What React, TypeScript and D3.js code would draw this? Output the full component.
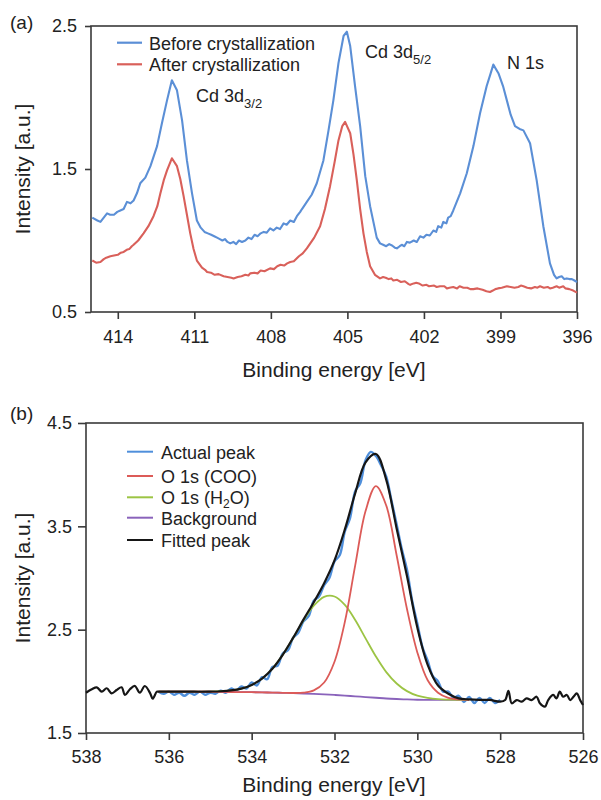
import React, { useEffect, useRef } from "react";
import * as d3 from "d3";

// ---- panel (a): XPS survey of Cd 3d / N 1s ----
const beforeEnergy = [415.0, 414.95, 414.8, 414.68, 414.55, 414.42, 414.3, 414.15, 414.02, 413.9, 413.77, 413.64, 413.5, 413.38, 413.25, 413.12, 412.92, 412.72, 412.46, 412.27, 412.07, 411.88, 411.68, 411.48, 411.29, 411.09, 410.9, 410.75, 410.6, 410.47, 410.34, 410.22, 410.11, 410.0, 409.9, 409.8, 409.7, 409.59, 409.47, 409.36, 409.25, 409.13, 409.0, 408.88, 408.76, 408.64, 408.52, 408.4, 408.28, 408.16, 408.03, 407.9, 407.77, 407.64, 407.5, 407.38, 407.24, 407.1, 406.98, 406.85, 406.78, 406.59, 406.4, 406.2, 405.94, 405.74, 405.55, 405.35, 405.15, 405.02, 404.89, 404.7, 404.5, 404.3, 404.11, 403.85, 403.72, 403.6, 403.48, 403.36, 403.25, 403.14, 403.06, 402.95, 402.87, 402.77, 402.67, 402.55, 402.4, 402.28, 402.15, 402.02, 401.9, 401.77, 401.63, 401.52, 401.44, 401.32, 401.24, 401.12, 401.05, 400.95, 400.85, 400.58, 400.32, 400.06, 399.8, 399.54, 399.4, 399.28, 399.08, 398.9, 398.75, 398.6, 398.43, 398.25, 398.1, 397.84, 397.58, 397.32, 397.06, 396.9, 396.8, 396.7, 396.6, 396.5, 396.4, 396.3, 396.2, 396.1, 396.0];
const beforeIntensity = [1.16, 1.155, 1.14, 1.13, 1.16, 1.19, 1.18, 1.18, 1.2, 1.21, 1.22, 1.27, 1.26, 1.28, 1.33, 1.4, 1.44, 1.52, 1.66, 1.82, 1.98, 2.12, 2.05, 1.84, 1.56, 1.33, 1.14, 1.09, 1.06, 1.05, 1.04, 1.03, 1.02, 1.01, 1.0, 1.01, 0.99, 0.98, 0.99, 0.975, 1.0, 0.99, 1.0, 1.02, 1.01, 1.04, 1.03, 1.05, 1.06, 1.055, 1.085, 1.07, 1.09, 1.08, 1.12, 1.11, 1.14, 1.13, 1.17, 1.2, 1.22, 1.27, 1.32, 1.4, 1.56, 1.77, 1.98, 2.24, 2.43, 2.46, 2.36, 2.08, 1.8, 1.45, 1.24, 1.02, 0.98, 0.97, 0.96, 0.975, 0.965, 0.95, 0.945, 0.96, 0.97, 0.96, 0.99, 0.985, 1.0, 0.99, 1.03, 1.02, 1.04, 1.035, 1.07, 1.06, 1.1, 1.09, 1.13, 1.12, 1.16, 1.17, 1.21, 1.33, 1.47, 1.66, 1.89, 2.08, 2.16, 2.23, 2.17, 2.08, 1.98, 1.88, 1.8, 1.78, 1.77, 1.68, 1.42, 1.1, 0.84, 0.76, 0.735, 0.745, 0.75, 0.73, 0.735, 0.73, 0.73, 0.72, 0.71];

const afterEnergy = [415.0, 414.85, 414.68, 414.55, 414.45, 414.29, 414.15, 414.0, 413.88, 413.77, 413.65, 413.55, 413.45, 413.38, 413.2, 412.99, 412.8, 412.6, 412.45, 412.33, 412.2, 412.07, 411.88, 411.68, 411.55, 411.42, 411.29, 411.16, 411.03, 410.9, 410.7, 410.58, 410.5, 410.35, 410.2, 410.05, 409.85, 409.7, 409.55, 409.46, 409.3, 409.15, 409.0, 408.88, 408.81, 408.65, 408.52, 408.4, 408.25, 408.03, 407.88, 407.75, 407.62, 407.48, 407.36, 407.24, 407.1, 406.9, 406.75, 406.59, 406.3, 406.07, 405.88, 405.68, 405.5, 405.35, 405.2, 405.09, 404.89, 404.76, 404.63, 404.5, 404.37, 404.24, 404.11, 403.92, 403.72, 403.6, 403.5, 403.38, 403.28, 403.2, 403.05, 402.9, 402.75, 402.6, 402.54, 402.4, 402.3, 402.2, 402.05, 401.9, 401.8, 401.6, 401.5, 401.37, 401.2, 401.1, 401.0, 400.85, 400.7, 400.6, 400.45, 400.3, 400.18, 400.06, 399.9, 399.7, 399.55, 399.41, 399.3, 399.2, 399.1, 398.95, 398.85, 398.75, 398.6, 398.45, 398.3, 398.2, 398.1, 397.95, 397.8, 397.65, 397.55, 397.45, 397.3, 397.15, 397.06, 396.95, 396.8, 396.7, 396.54, 396.45, 396.3, 396.15, 396.0];
const afterIntensity = [0.86, 0.845, 0.85, 0.87, 0.88, 0.89, 0.895, 0.9, 0.915, 0.92, 0.935, 0.94, 0.96, 0.97, 1.0, 1.05, 1.1, 1.17, 1.24, 1.33, 1.42, 1.49, 1.575, 1.52, 1.43, 1.31, 1.18, 1.05, 0.94, 0.86, 0.81, 0.795, 0.78, 0.775, 0.76, 0.765, 0.75, 0.745, 0.74, 0.735, 0.745, 0.75, 0.76, 0.755, 0.77, 0.775, 0.77, 0.79, 0.785, 0.805, 0.8, 0.82, 0.83, 0.825, 0.84, 0.85, 0.855, 0.89, 0.91, 0.945, 1.02, 1.1, 1.22, 1.38, 1.55, 1.7, 1.8, 1.83, 1.75, 1.6, 1.42, 1.22, 1.05, 0.92, 0.82, 0.76, 0.735, 0.745, 0.74, 0.73, 0.735, 0.72, 0.725, 0.71, 0.715, 0.695, 0.69, 0.7, 0.705, 0.7, 0.685, 0.69, 0.68, 0.685, 0.675, 0.68, 0.68, 0.665, 0.67, 0.675, 0.665, 0.68, 0.67, 0.67, 0.66, 0.66, 0.665, 0.655, 0.645, 0.64, 0.65, 0.66, 0.665, 0.67, 0.675, 0.68, 0.675, 0.67, 0.675, 0.685, 0.68, 0.67, 0.665, 0.675, 0.67, 0.68, 0.67, 0.675, 0.665, 0.67, 0.68, 0.67, 0.68, 0.665, 0.66, 0.65, 0.635];

const ticksAX = [414, 411, 408, 405, 402, 399, 396];
const ticksAY = [0.5, 1.5, 2.5];

// ---- panel (b): O 1s fit ----
const fitEnergy = [536.25, 536.0, 535.75, 535.5, 535.25, 535.0, 534.75, 534.5, 534.25, 534.0, 533.75, 533.5, 533.25, 533.0, 532.75, 532.5, 532.25, 532.0, 531.75, 531.5, 531.25, 531.0, 530.75, 530.5, 530.25, 530.0, 529.75, 529.5, 529.25, 529.0, 528.75];
const background = [1.9, 1.9, 1.9, 1.9, 1.899, 1.899, 1.898, 1.897, 1.896, 1.895, 1.893, 1.891, 1.889, 1.886, 1.882, 1.878, 1.873, 1.868, 1.862, 1.855, 1.848, 1.841, 1.834, 1.829, 1.825, 1.822, 1.821, 1.82, 1.82, 1.82, 1.82];
const o1sCOO = [1.9, 1.9, 1.9, 1.9, 1.899, 1.899, 1.898, 1.897, 1.896, 1.895, 1.893, 1.891, 1.889, 1.887, 1.89, 1.912, 1.989, 2.19, 2.575, 3.122, 3.648, 3.889, 3.7, 3.22, 2.7, 2.28, 2.01, 1.89, 1.84, 1.825, 1.82];
const o1sH2O = [1.9, 1.9, 1.9, 1.9, 1.9, 1.901, 1.904, 1.912, 1.93, 1.965, 2.026, 2.122, 2.257, 2.419, 2.589, 2.732, 2.818, 2.821, 2.74, 2.594, 2.416, 2.24, 2.089, 1.979, 1.905, 1.861, 1.839, 1.827, 1.823, 1.821, 1.82];
const fittedMid = [1.9, 1.9, 1.9, 1.9, 1.899, 1.901, 1.904, 1.912, 1.93, 1.965, 2.026, 2.122, 2.257, 2.42, 2.597, 2.766, 2.95, 3.17, 3.47, 3.82, 4.12, 4.2, 3.95, 3.48, 3.02, 2.52, 2.16, 1.96, 1.88, 1.835, 1.825];

const noiseLeftEnergy = [538.0, 537.86, 537.74, 537.62, 537.5, 537.38, 537.26, 537.14, 537.06, 536.94, 536.82, 536.7, 536.58, 536.45, 536.39, 536.29];
const noiseLeftIntensity = [1.89, 1.923, 1.942, 1.9, 1.933, 1.884, 1.916, 1.942, 1.868, 1.923, 1.955, 1.89, 1.955, 1.884, 1.832, 1.9];
const noiseRightEnergy = [528.5, 528.25, 528.0, 527.88, 527.8, 527.72, 527.6, 527.48, 527.36, 527.24, 527.12, 527.04, 526.92, 526.84, 526.72, 526.64, 526.56, 526.48, 526.39, 526.31, 526.23, 526.15, 526.07, 526.0];
const noiseRightIntensity = [1.82, 1.82, 1.803, 1.819, 1.909, 1.787, 1.819, 1.803, 1.835, 1.819, 1.851, 1.787, 1.755, 1.819, 1.868, 1.835, 1.9, 1.851, 1.868, 1.819, 1.851, 1.884, 1.819, 1.771];

const actualEnergy = [536.25, 536.125, 536.0, 535.875, 535.75, 535.625, 535.5, 535.375, 535.25, 535.125, 535.0, 534.875, 534.75, 534.625, 534.5, 534.375, 534.25, 534.125, 534.0, 533.875, 533.75, 533.625, 533.5, 533.375, 533.25, 533.125, 533.0, 532.875, 532.75, 532.625, 532.5, 532.375, 532.25, 532.125, 532.0, 531.875, 531.75, 531.625, 531.5, 531.375, 531.25, 531.125, 531.0, 530.875, 530.75, 530.625, 530.5, 530.375, 530.25, 530.125, 530.0, 529.875, 529.75, 529.625, 529.5, 529.375, 529.25, 529.125, 529.0, 528.875, 528.75, 528.625, 528.5, 528.375, 528.25, 528.125, 528.0];
const actualIntensity = [1.9, 1.88, 1.9, 1.87, 1.89, 1.86, 1.89, 1.87, 1.9, 1.87, 1.89, 1.88, 1.91, 1.89, 1.93, 1.91, 1.95, 1.93, 1.99, 1.96, 2.04, 2.02, 2.14, 2.15, 2.27, 2.3, 2.42, 2.47, 2.58, 2.63, 2.78, 2.82, 2.93, 3.0, 3.16, 3.22, 3.45, 3.58, 3.84, 3.92, 4.14, 4.22, 4.18, 4.09, 3.98, 3.75, 3.52, 3.28, 3.08, 2.78, 2.56, 2.33, 2.2, 2.05, 2.0, 1.9, 1.9, 1.84, 1.86, 1.8, 1.85, 1.79, 1.84, 1.79, 1.84, 1.79, 1.82];

const ticksBX = [538, 536, 534, 532, 530, 528, 526];
const ticksBY = [1.5, 2.5, 3.5, 4.5];

const FONT = "'Liberation Sans', Arial, sans-serif";
const AXIS = "#3a3a3a";

const App = () => {
  const ref = useRef<SVGSVGElement>(null);

  useEffect(() => {
    const svg = d3.select(ref.current);
    svg.selectAll("*").remove();

    const drawAxes = (x, y, xt, yt, left, right, top, bottom, ytick, ypad, xpad) => {
      const gx = svg.append("g").attr("transform", `translate(0,${bottom})`)
        .call(d3.axisBottom(x).tickValues(xt).tickSize(7).tickSizeOuter(0).tickPadding(xpad).tickFormat(d3.format("d")));
      const gy = svg.append("g").attr("transform", `translate(${left},0)`)
        .call(d3.axisLeft(y).tickValues(yt).tickSize(ytick).tickSizeOuter(0).tickPadding(ypad).tickFormat(d3.format(".1f")));
      [gx, gy].forEach(g => {
        g.select(".domain").remove();
        g.selectAll("line").attr("stroke", AXIS).attr("stroke-width", 1.6);
        g.selectAll("text").attr("fill", "#222").attr("font-size", 18).attr("font-family", FONT);
      });
      svg.append("rect").attr("x", left).attr("y", top)
        .attr("width", right - left).attr("height", bottom - top)
        .attr("fill", "none").attr("stroke", AXIS).attr("stroke-width", 1.6);
    };

    const text = (x, y, s, size, anchor = "start", rotate = false) => {
      const t = svg.append("text").attr("x", x).attr("y", y).attr("font-size", size)
        .attr("font-family", FONT).attr("fill", "#222").attr("text-anchor", anchor).text(s);
      if (rotate) t.attr("transform", `rotate(-90,${x},${y})`);
      return t;
    };

    const subText = (x, y, main, sub, after = "", subSize = 13, drop = 6) => {
      const t = svg.append("text").attr("x", x).attr("y", y).attr("font-size", 18)
        .attr("font-family", FONT).attr("fill", "#222");
      t.append("tspan").text(main);
      t.append("tspan").attr("font-size", subSize).attr("dy", drop).text(sub);
      if (after) t.append("tspan").attr("dy", -drop).text(after);
    };

    const line = (x, y, xs, ys, color, w, curve = d3.curveLinear) => {
      const pts = xs.map((e, i) => [e, ys[i]]);
      svg.append("path").datum(pts)
        .attr("d", d3.line().x(d => x(d[0])).y(d => y(d[1])).curve(curve))
        .attr("fill", "none").attr("stroke", color).attr("stroke-width", w)
        .attr("stroke-linejoin", "round");
    };

    // ---------- panel (a)
    const xA = d3.scaleLinear().domain([415.05, 396]).range([91, 577]);
    const yA = d3.scaleLinear().domain([0.5, 2.5]).range([312, 26]);
    drawAxes(xA, yA, ticksAX, ticksAY, 91, 577, 26, 312, 6, 8, 11);
    line(xA, yA, beforeEnergy, beforeIntensity, "#5b8fd6", 2.1);
    line(xA, yA, afterEnergy, afterIntensity, "#d9605a", 2.1);

    text(10, 29, "(a)", 19);
    text(30, 169, "Intensity [a.u.]", 21, "middle", true);
    text(334, 377, "Binding energy [eV]", 21, "middle");

    const legA = [["Before crystallization", "#5b8fd6"], ["After crystallization", "#d9605a"]];
    legA.forEach(([name, c], i) => {
      const ly = 42.7 + i * 21.6;
      svg.append("line").attr("x1", 117).attr("x2", 142).attr("y1", ly).attr("y2", ly)
        .attr("stroke", c).attr("stroke-width", 2.2);
      text(149, ly + 7, name, 18);
    });
    subText(196, 102, "Cd 3d", "3/2");
    subText(365, 58, "Cd 3d", "5/2");
    text(507, 69, "N 1s", 18);

    // ---------- panel (b)
    const xB = d3.scaleLinear().domain([538, 526]).range([86, 583]);
    const yB = d3.scaleLinear().domain([1.5, 4.5]).range([733, 423]);
    drawAxes(xB, yB, ticksBX, ticksBY, 86, 583, 423, 733, 8, 6, 10);

    const smooth = d3.curveCatmullRom.alpha(0.5);
    line(xB, yB, actualEnergy, actualIntensity, "#4f8fdb", 2.4, smooth);
    line(xB, yB, fitEnergy, background, "#8a63bb", 1.8, smooth);
    line(xB, yB, fitEnergy, o1sH2O, "#9cc444", 1.8, smooth);
    line(xB, yB, fitEnergy, o1sCOO, "#dc5b58", 1.8, smooth);
    const fittedEnergy = [...noiseLeftEnergy, ...fitEnergy, ...noiseRightEnergy];
    const fittedPeak = [...noiseLeftIntensity, ...fittedMid, ...noiseRightIntensity];
    line(xB, yB, fittedEnergy, fittedPeak, "#161616", 2.2, smooth);

    text(10, 420, "(b)", 19);
    text(30, 578, "Intensity [a.u.]", 21, "middle", true);
    text(334, 792, "Binding energy [eV]", 21, "middle");

    const legB = [
      ["Actual peak", "#4f8fdb", 451.7],
      ["O 1s (COO)", "#dc5b58", 476],
      ["O 1s (H", "#9cc444", 497.3],
      ["Background", "#8a63bb", 517.7],
      ["Fitted peak", "#161616", 540],
    ];
    legB.forEach(([name, c, ly]) => {
      svg.append("line").attr("x1", 127).attr("x2", 153).attr("y1", ly).attr("y2", ly)
        .attr("stroke", c).attr("stroke-width", 2);
      if (name === "O 1s (H") subText(161, ly + 7, "O 1s (H", "2", "O)", 12, 4);
      else text(161, ly + 7, name, 18);
    });
  }, []);

  return (
    <svg ref={ref} width={601} height={800}
      style={{ position: "absolute", left: 0, top: 0, background: "#fff" }} />
  );
};

export default App;
